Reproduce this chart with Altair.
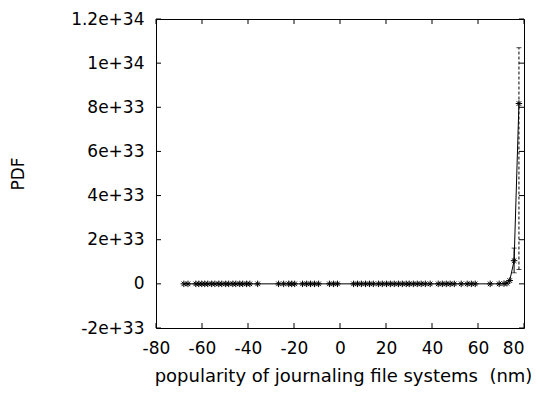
import altair as alt
import pandas as pd

# data
xs = [-67.9, -66.1, -62.7, -61.4, -60.1, -58.8, -57.5, -55.8, -54.4, -52.7, -51.4,
      -49.7, -48.4, -46.6, -45.3, -43.6, -42.3, -40.6, -39.2, -35.8, -26.7, -24.5,
      -22.3, -21.0, -19.7, -16.3, -14.5, -12.8, -11.1, -9.3, -4.6, -2.8, -1.1, 5.9,
      7.6, 9.3, 11.1, 12.8, 14.5, 16.7, 18.4, 20.2, 21.9, 23.6, 25.4, 27.1, 28.8,
      30.1, 31.9, 33.6, 35.3, 37.1, 39.2, 42.7, 44.5, 46.2, 47.9, 49.7, 52.7, 55.3,
      57.1, 58.8, 65.3, 69.2, 71.3, 72.6, 73.8, 75.7, 77.8]
ys = [0.0] * 64 + [0.01e33, 0.03e33, 0.15e33, 1.05e33, 8.17e33]

# error bars
err_x = [75.7, 77.8]
err_lo = [0.5e33, 0.65e33]
err_hi = [1.62e33, 1.07e34]
err_kind = ["solid", "dashed"]

x_ticks = [-80, -60, -40, -20, 0, 20, 40, 60, 80]
y_ticks = [-2e33, 0, 2e33, 4e33, 6e33, 8e33, 1e34, 1.2e34]

W, H = 368, 309
FONT = "DejaVu Sans"
FS = 17
TL = 5

df = pd.DataFrame({"x": xs, "y": ys})
ef = pd.DataFrame({"x": err_x, "lo": err_lo, "hi": err_hi, "kind": err_kind})
xt = pd.DataFrame({"v": x_ticks})
yt = pd.DataFrame({"v": y_ticks})

xscale = alt.Scale(domain=[-80, 80], nice=False, zero=False)
yscale = alt.Scale(domain=[-2e33, 1.2e34], nice=False, zero=False)

xaxis = alt.Axis(values=x_ticks, domain=False, ticks=False, tickSize=0, grid=False,
                 labelFont=FONT, labelFontSize=FS, labelColor="black", labelPadding=12,
                 labelOverlap=False, labelFlush=False,
                 labelAlign={"condition": {"test": "datum.value == 80", "value": "right"},
                             "value": "center"},
                 labelExpr="'' + datum.value",
                 title="popularity of journaling file systems \u00a0(nm)",
                 titleFont=FONT, titleFontSize=18, titleFontWeight="normal", titleColor="black",
                 titleX=187, titleY=48, titleAlign="center", titleBaseline="middle")
yaxis = alt.Axis(values=y_ticks, domain=False, ticks=False, tickSize=0, grid=False,
                 labelFont=FONT, labelFontSize=FS, labelColor="black", labelPadding=12,
                 labelOverlap=False, labelFlush=False,
                 labelExpr="datum.value == 0 ? '0' : replace(format(datum.value, '.2~e'), '\u2212', '-')",
                 title="PDF", titleFont=FONT, titleFontSize=FS, titleFontWeight="normal",
                 titleColor="black", titleX=-138, titleY=154.5, titleAngle=270,
                 titleAlign="center", titleBaseline="middle")

star = "M-1,0L1,0M0,-1L0,1M-0.7,-0.7L0.7,0.7M-0.7,0.7L0.7,-0.7"

line = alt.Chart(df).mark_line(color="black", strokeWidth=1).encode(
    x=alt.X("x:Q", scale=xscale, axis=xaxis),
    y=alt.Y("y:Q", scale=yscale, axis=yaxis),
    order="x:Q",
)
pts = alt.Chart(df).mark_point(shape=star, size=42, color="black", strokeWidth=1,
                               filled=False, opacity=1).encode(
    x=alt.X("x:Q", scale=xscale), y=alt.Y("y:Q", scale=yscale))

err_solid = alt.Chart(ef[ef.kind == "solid"]).mark_rule(color="black", strokeWidth=1).encode(
    x=alt.X("x:Q", scale=xscale), y=alt.Y("lo:Q", scale=yscale), y2="hi:Q")
err_dash = alt.Chart(ef[ef.kind == "dashed"]).mark_rule(color="black", strokeWidth=1,
                                                        strokeDash=[3, 2]).encode(
    x=alt.X("x:Q", scale=xscale), y=alt.Y("lo:Q", scale=yscale), y2="hi:Q")
cap_lo = alt.Chart(ef).mark_tick(orient="horizontal", size=5, thickness=1, color="black").encode(
    x=alt.X("x:Q", scale=xscale), y=alt.Y("lo:Q", scale=yscale))
cap_hi = alt.Chart(ef).mark_tick(orient="horizontal", size=5, thickness=1, color="black").encode(
    x=alt.X("x:Q", scale=xscale), y=alt.Y("hi:Q", scale=yscale))

yl = alt.Chart(yt).mark_rule(color="black", strokeWidth=1).encode(
    y=alt.Y("v:Q", scale=yscale), x=alt.value(0), x2=alt.value(TL))
yr = alt.Chart(yt).mark_rule(color="black", strokeWidth=1).encode(
    y=alt.Y("v:Q", scale=yscale), x=alt.value(W - TL), x2=alt.value(W))
xb = alt.Chart(xt).mark_rule(color="black", strokeWidth=1).encode(
    x=alt.X("v:Q", scale=xscale), y=alt.value(H), y2=alt.value(H - TL))
xtp = alt.Chart(xt).mark_rule(color="black", strokeWidth=1).encode(
    x=alt.X("v:Q", scale=xscale), y=alt.value(0), y2=alt.value(TL))

chart = alt.layer(line, pts, err_solid, err_dash, cap_lo, cap_hi, yl, yr, xb, xtp).properties(
    width=W, height=H,
    autosize=alt.AutoSizeParams(type="none"),
    padding={"left": 148, "top": 11, "right": 7, "bottom": 58},
    background="white",
).configure_view(stroke="black", strokeWidth=1)

chart.save("out.html", embed_options={"renderer": "svg", "actions": False})
